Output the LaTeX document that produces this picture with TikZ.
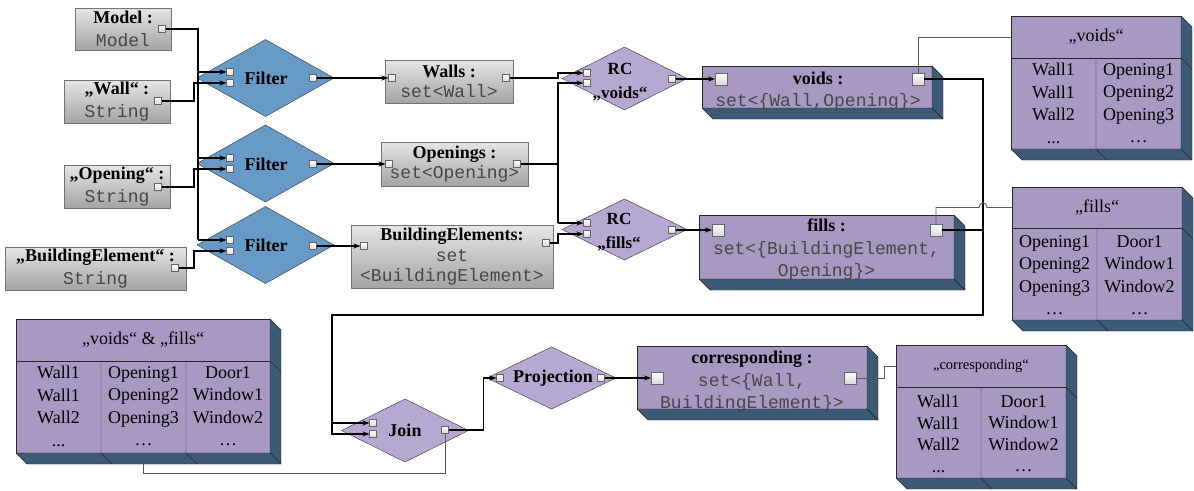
\documentclass[tikz,border=0pt]{standalone}
\usepackage{fontspec}
\setmainfont{Liberation Serif}
\setmonofont{Liberation Mono}
\usetikzlibrary{shapes.geometric,arrows.meta}

\definecolor{filterblue}{RGB}{104,154,200}
\definecolor{oplilac}{RGB}{181,169,210}
\definecolor{cubeface}{RGB}{168,153,194}
\definecolor{cubedark}{RGB}{60,90,118}

\begin{document}
\begin{tikzpicture}[x=1pt, y=-1pt,
  every node/.style={inner sep=0pt, outer sep=0pt,
    font=\fontsize{18}{23}\selectfont},
  valbox/.style={draw=black!55, top color=black!10, bottom color=black!36,
    align=center},
  setbox/.style={valbox, font=\fontsize{18}{20.5}\selectfont},
  cube/.style={draw=black!85, fill=cubeface, align=center},
  cubetext/.style={align=center, font=\fontsize{18}{22.5}\selectfont},
  sideface/.style={draw=black!85, fill=cubedark, line join=round},
  divline/.style={draw=black!85},
  tabcells/.style={anchor=north, align=center, font=\fontsize{18}{22.5}\selectfont},
  filterop/.style={diamond, draw=black!80, fill=filterblue,
    minimum width=137, minimum height=77},
  relop/.style={diamond, draw=black!80, fill=oplilac},
  oplabel/.style={align=center, font=\fontsize{18}{23}\selectfont\bfseries},
  rclabel/.style={oplabel, font=\fontsize{17}{24}\selectfont\bfseries},
  port/.style={draw=black!60, top color=white, bottom color=black!15,
    minimum size=7},
  bigport/.style={port, minimum size=12},
  flow/.style={line width=1.1pt},
  link/.style={draw=black!65, line width=0.9pt},
  >={Stealth[length=7pt, width=5pt]}]

  \newcommand\dep{11}  %% depth of the 3d blocks
  \newcommand\mono[1]{{\color{black!72}\texttt{#1}}}
  \newcommand\extrude[2]{%% side + bottom face, #1 top node, #2 bottom node
    \draw[sideface] (#1.north east) -- ++(\dep,\dep)
      -- ([shift={(\dep,\dep)}]#2.south east) -- ([shift={(\dep,\dep)}]#2.south west)
      -- (#2.south west) -- (#2.south east) -- cycle;
    \draw[divline] (#1.south east) -- ++(\dep,\dep);
    \draw[divline] (#2.south east) -- ++(\dep,\dep);}

  \useasboundingbox (0,0) rectangle (1194,490);

  %% input values
  \node[valbox, minimum width=96, minimum height=42] (mdl) at (123,29)
    {\textbf{Model :}\\\mono{Model}};
  \node[valbox, minimum width=106, minimum height=43] (wal) at (117,101.5)
    {\textbf{„Wall“ :}\\\mono{String}};
  \node[valbox, minimum width=106, minimum height=43] (opn) at (117,186.5)
    {\textbf{„Opening“ :}\\\mono{String}};
  \node[valbox, minimum width=181, minimum height=43] (bel) at (95.5,268.5)
    {\textbf{„BuildingElement“ :}\\\mono{String}};
  \node[port] (mo) at (162,29) {};
  \node[port] (wo) at (158,101) {};
  \node[port] (oo) at (158,187) {};
  \node[port] (bo) at (175,268) {};

  %% filters
  \node[filterop] (flt1) at (265.5,78) {};
  \node[filterop] (flt2) at (265.5,163.5) {};
  \node[filterop] (flt3) at (265.5,245) {};
  \node[oplabel] (flt1t) at (266,78) {Filter};
  \node[oplabel] (flt2t) at (266,164) {Filter};
  \node[oplabel] (flt3t) at (266,245) {Filter};
  \node[port] (f1a) at (230,72) {};
  \node[port] (f1b) at (230,83) {};
  \node[port] (f1o) at (313,78) {};
  \node[port] (f2a) at (230,158) {};
  \node[port] (f2b) at (230,169) {};
  \node[port] (f2o) at (313,164) {};
  \node[port] (f3a) at (230,240) {};
  \node[port] (f3b) at (230,251) {};
  \node[port] (f3o) at (313,246) {};

  %% filtered sets
  \node[setbox, minimum width=128, minimum height=43] (wls) at (449,81.5)
    {\textbf{Walls :}\\\mono{set<Wall>}};
  \node[setbox, minimum width=147, minimum height=44] (ops) at (454.5,164)
    {\textbf{Openings :}\\\mono{set<Opening>}};
  \node[setbox, minimum width=202, minimum height=63] (bes) at (452,257)
    {\textbf{BuildingElements:}\\\mono{set}\\\mono{<BuildingElement>}};
  \node[port] (wsi) at (392,78) {};
  \node[port] (wso) at (506,78) {};
  \node[port] (opi) at (389,164) {};
  \node[port] (opo) at (517,164) {};
  \node[port] (bei) at (364,246) {};
  \node[port] (beo) at (546,243) {};

  %% relationship checks
  \node[relop, minimum width=125, minimum height=63] (rcv) at (624.5,78.5) {};
  \node[relop, minimum width=125, minimum height=61] (rcf) at (624.5,229.5) {};
  \node[rclabel] (rcvt) at (620,82) {RC\\„voids“};
  \node[rclabel] (rcft) at (619,232) {RC\\„fills“};
  \node[port] (rva) at (587,73) {};
  \node[port] (rvb) at (587,83) {};
  \node[port] (rvo) at (672,79) {};
  \node[port] (rfa) at (587,223) {};
  \node[port] (rfb) at (587,234) {};
  \node[port] (rfo) at (672,230) {};

  %% result blocks
  \node[cube, minimum width=230, minimum height=42] (vd) at (817,87) {};
  \extrude{vd}{vd}
  \node[cubetext] (vdt) at (818,91)
    {\textbf{voids :}\\\mono{set<\{Wall,Opening\}>}};
  \node[cube, minimum width=255, minimum height=64] (fi) at (826.5,247) {};
  \extrude{fi}{fi}
  \node[cubetext] (fit) at (826.5,250)
    {\textbf{fills :}\\\mono{set<\{BuildingElement,}\\\mono{Opening\}>}};
  \node[cube, minimum width=230, minimum height=63] (cr) at (752,377.5) {};
  \extrude{cr}{cr}
  \node[cubetext] (crt) at (752,382)
    {\textbf{corresponding :}\\\mono{set<\{Wall,}\\\mono{BuildingElement\}>}};
  \node[bigport] (vdi) at (721,79) {};
  \node[bigport] (vdo) at (918,79) {};
  \node[bigport] (fii) at (718,230) {};
  \node[bigport] (fio) at (936,230) {};
  \node[bigport] (cri) at (657,378) {};
  \node[bigport] (cro) at (850,378) {};

  %% join and projection
  \node[relop, minimum width=127, minimum height=63] (jn) at (405,430.5) {};
  \node[relop, minimum width=129, minimum height=62] (prj) at (551.5,378) {};
  \node[oplabel] (jnt) at (405,430) {Join};
  \node[oplabel] (prjt) at (553,378) {Projection};
  \node[port] (ja) at (373,423) {};
  \node[port] (jb) at (373,434) {};
  \node[port] (jo) at (445,430) {};
  \node[port] (pi) at (500,378) {};
  \node[port] (po) at (601,378) {};

  %% table "voids"
  \node[cube, minimum width=170, minimum height=42, anchor=north west] (vdh)
    at (1011,16) {„voids“};
  \node[cube, minimum width=170, minimum height=91, anchor=north] (vdb)
    at (vdh.south) {};
  \extrude{vdh}{vdb}
  \draw[divline] (vdb.north) -- (vdb.south) -- ++(\dep,\dep);
  \node[tabcells] (vdc1) at (1053.5,63.5) {Wall1\\Wall1\\Wall2\\...};
  \node[tabcells] (vdc2) at (1138.5,63.5) {Opening1\\Opening2\\Opening3\\…};

  %% table "fills"
  \node[cube, minimum width=170, minimum height=41, anchor=north west] (fih)
    at (1012,187) {„fills“};
  \node[cube, minimum width=170, minimum height=92, anchor=north] (fib)
    at (fih.south) {};
  \extrude{fih}{fib}
  \draw[divline] (fib.north) -- (fib.south) -- ++(\dep,\dep);
  \node[tabcells] (fic1) at (1054.5,235.5) {Opening1\\Opening2\\Opening3\\…};
  \node[tabcells] (fic2) at (1139.5,235.5) {Door1\\Window1\\Window2\\…};

  %% table "voids" & "fills"
  \node[cube, minimum width=254, minimum height=42, anchor=north west] (vfh)
    at (16,319) {„voids“ \& „fills“};
  \node[cube, minimum width=254, minimum height=92, anchor=north] (vfb)
    at (vfh.south) {};
  \extrude{vfh}{vfb}
  \draw[divline] ([shift={(85,0)}]vfb.north west) -- ([shift={(85,0)}]vfb.south west)
    -- ++(\dep,\dep);
  \draw[divline] ([shift={(170,0)}]vfb.north west) -- ([shift={(170,0)}]vfb.south west)
    -- ++(\dep,\dep);
  \node[tabcells] (vfc1) at (58.5,366.5) {Wall1\\Wall1\\Wall2\\...};
  \node[tabcells] (vfc2) at (143.5,366.5) {Opening1\\Opening2\\Opening3\\…};
  \node[tabcells] (vfc3) at (228,366.5) {Door1\\Window1\\Window2\\…};

  %% table "corresponding"
  \node[cube, minimum width=170, minimum height=42, anchor=north west,
    font=\fontsize{14.5}{16}\selectfont] (crh) at (896,345) {„corresponding“};
  \node[cube, minimum width=170, minimum height=91, anchor=north] (crb)
    at (crh.south) {};
  \extrude{crh}{crb}
  \draw[divline] (crb.north) -- (crb.south) -- ++(\dep,\dep);
  \node[tabcells, font=\fontsize{18}{21.5}\selectfont] (crc1) at (938.5,395.5)
    {Wall1\\Wall1\\Wall2\\...};
  \node[tabcells, font=\fontsize{18}{21.5}\selectfont] (crc2) at (1023.5,395.5)
    {Door1\\Window1\\Window2\\…};

  %% inputs into the filters
  \coordinate (mbus) at (198,0);
  \coordinate (sbus) at (194,0);
  \draw[flow, line width=1.5pt] (mo.east) -| (f3a -| mbus);
  \draw[flow,->] (f1a -| mbus) -- (f1a);
  \draw[flow,->] (f2a -| mbus) -- (f2a);
  \draw[flow,->] (f3a -| mbus) -- (f3a);
  \draw[flow,->] (wo.east) -| (f1b -| sbus) -- (f1b);
  \draw[flow,->] (oo.east) -| (f2b -| sbus) -- (f2b);
  \draw[flow,->] (bo.east) -| (f3b -| sbus) -- (f3b);

  %% filters to sets
  \draw[flow,->] (f1o.east) -- (wsi);
  \draw[flow,->] (f2o.east) -- (opi);
  \draw[flow,->] (f3o.east) -- (bei);

  %% sets to the relationship checks
  \coordinate (rbus) at (558,0);
  \draw[flow,->] (wso.east) -| (rva -| rbus) -- (rva);
  \draw[flow] (opo.east) -- (opo -| rbus);
  \draw[flow,->] (rfa -| rbus) -- (rvb -| rbus) -- (rvb);
  \draw[flow,->] (rfa -| rbus) -- (rfa);
  \draw[flow,->] (beo.east) -| (rfb -| rbus) -- (rfb);
  \draw[flow,->] (rvo.east) -- (vdi);
  \draw[flow,->] (rfo.east) -- (fii);

  %% back round to the join
  \coordinate (loopR) at (983,315);
  \coordinate (loopL) at (332,315);
  \draw[flow,->] (vdo.east) -| (loopR) -- (loopL) |- (jb);
  \draw[flow] (fio.east) -- (fio -| loopR);
  \draw[flow,->] (ja -| loopL) -- (ja);
  \draw[flow,->] (jo.east) -- ++(35,0) |- (pi);
  \draw[flow,->] (po.east) -- (cri);

  %% results shown as tables
  \coordinate (hop) at (fih.west -| loopR);
  \draw[link] (vdo.north) |- (vdh.west);
  \draw[link] (fio.north) |- ([shift={(-4,0)}]hop)
    .. controls +(0,-6) and +(0,-6) .. ([shift={(4,0)}]hop) -- (fih.west);
  \draw[link] (cro.east) -| ([shift={(-12,0)}]crh.west) -- (crh.west);
  \draw[link] ([shift={(0,\dep)}]vfb.south) -- ++(0,9) -| (jo.south);

\end{tikzpicture}
\end{document}
